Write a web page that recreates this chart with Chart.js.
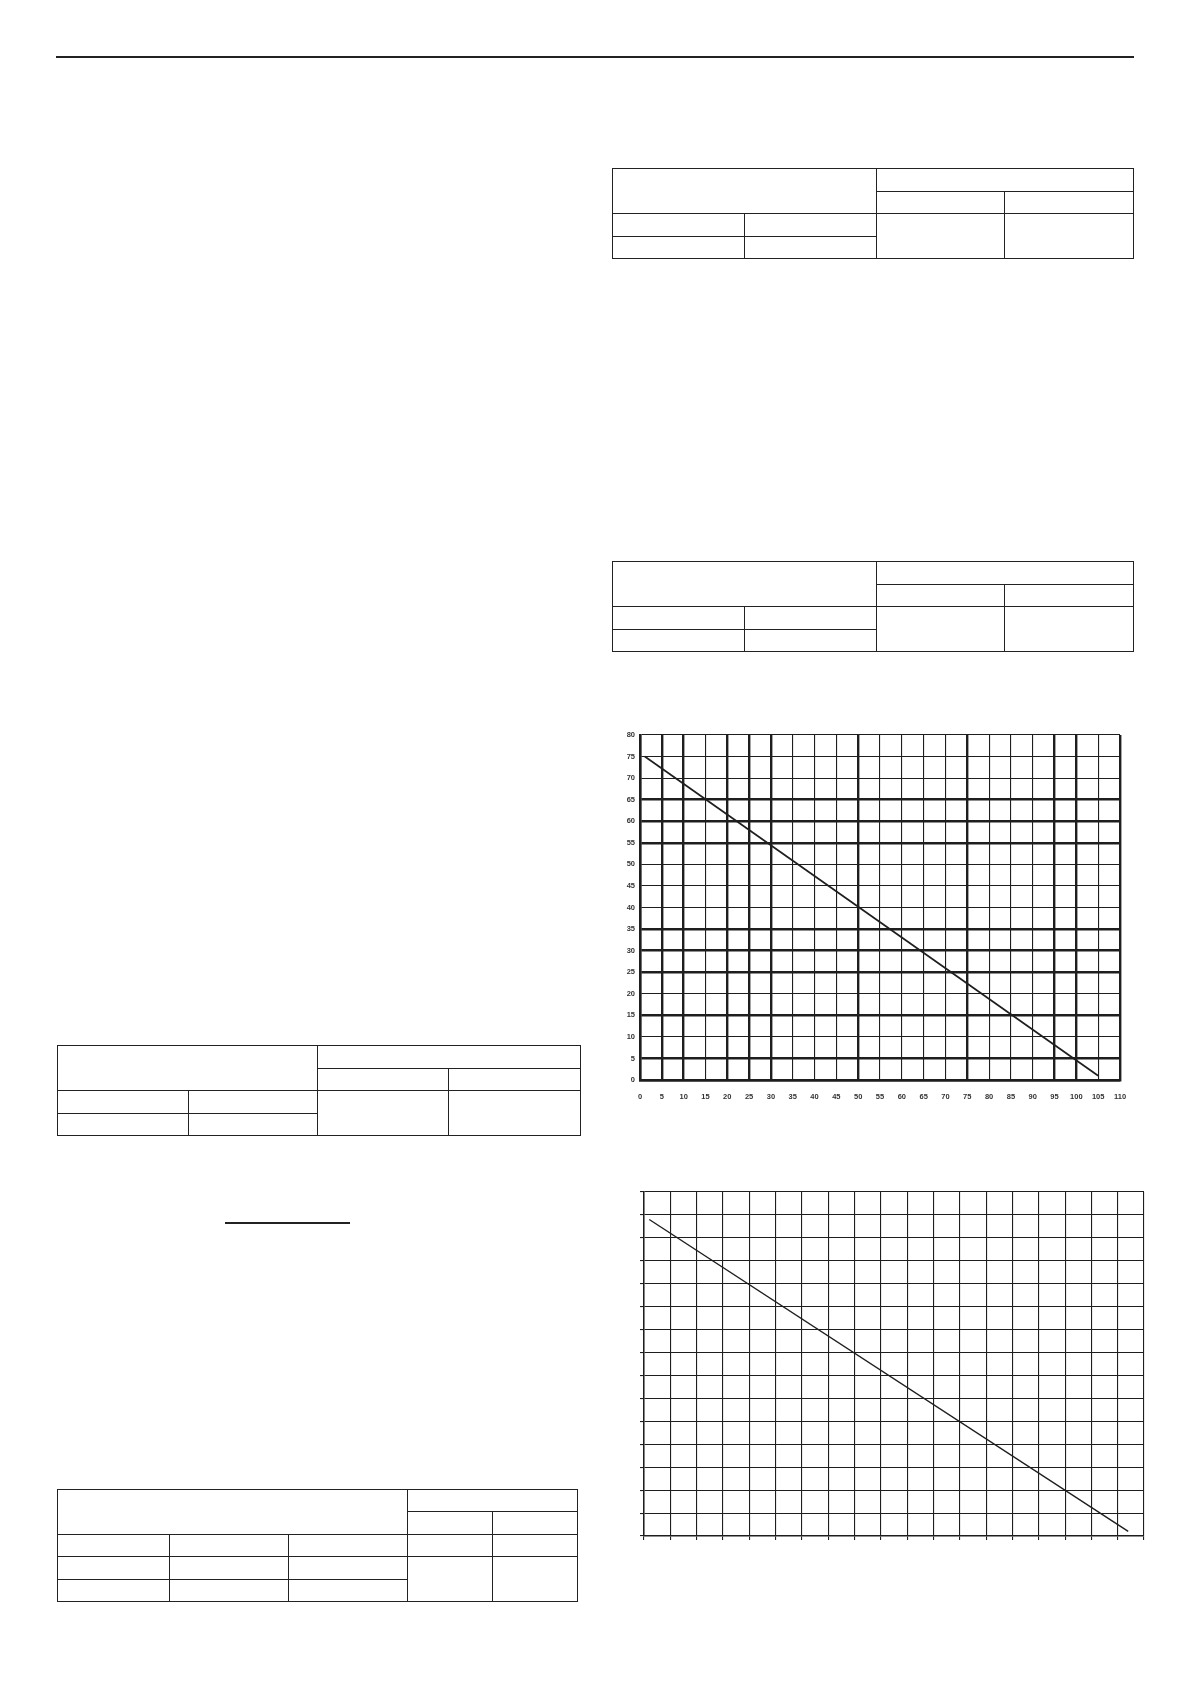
<!DOCTYPE html>
<html>
<head>
<meta charset="utf-8">
<script src="https://cdn.jsdelivr.net/npm/chart.js@4/dist/chart.umd.min.js"></script>
<style>
  html, body { margin: 0; padding: 0; background: #fff; }
  body { width: 1191px; height: 1684px; position: relative; overflow: hidden; }
  .rule { position: absolute; background: #222; }
  table.t { position: absolute; border-collapse: collapse; table-layout: fixed; }
  table.t td { border: 1.5px solid #222; padding: 0; font-size: 0; line-height: 0; }
  table.t tr { height: 22.6px; }
  table.t.five tr { height: 22.4px; }
  canvas { position: absolute; }
</style>
</head>
<body>
<div class="rule" style="left:56px;top:56px;width:1078px;height:1.5px"></div>

<table class="t" style="left:612px;top:168px;width:521px">
  <colgroup><col style="width:132px"><col style="width:132px"><col style="width:128px"><col style="width:129px"></colgroup>
  <tr><td colspan="2" rowspan="2"></td><td colspan="2"></td></tr>
  <tr><td></td><td></td></tr>
  <tr><td></td><td></td><td rowspan="2"></td><td rowspan="2"></td></tr>
  <tr><td></td><td></td></tr>
</table>

<table class="t" style="left:612px;top:561px;width:521px">
  <colgroup><col style="width:132px"><col style="width:132px"><col style="width:128px"><col style="width:129px"></colgroup>
  <tr><td colspan="2" rowspan="2"></td><td colspan="2"></td></tr>
  <tr><td></td><td></td></tr>
  <tr><td></td><td></td><td rowspan="2"></td><td rowspan="2"></td></tr>
  <tr><td></td><td></td></tr>
</table>

<table class="t" style="left:57px;top:1045px;width:523px">
  <colgroup><col style="width:131px"><col style="width:129px"><col style="width:131px"><col style="width:132px"></colgroup>
  <tr><td colspan="2" rowspan="2"></td><td colspan="2"></td></tr>
  <tr><td></td><td></td></tr>
  <tr><td></td><td></td><td rowspan="2"></td><td rowspan="2"></td></tr>
  <tr><td></td><td></td></tr>
</table>

<div class="rule" style="left:225px;top:1222px;width:125px;height:1.5px"></div>

<table class="t five" style="left:57px;top:1489px;width:520px">
  <colgroup><col style="width:112px"><col style="width:119px"><col style="width:119px"><col style="width:85px"><col style="width:85px"></colgroup>
  <tr><td colspan="3" rowspan="2"></td><td colspan="2"></td></tr>
  <tr><td></td><td></td></tr>
  <tr><td></td><td></td><td></td><td></td><td></td></tr>
  <tr><td></td><td></td><td></td><td rowspan="2"></td><td rowspan="2"></td></tr>
  <tr><td></td><td></td><td></td></tr>
</table>

<canvas id="chartA" width="520" height="375" style="left:610px;top:730px"></canvas>
<canvas id="chartB" width="515" height="359" style="left:634px;top:1187px"></canvas>

<script>
// chart A (labelled grid)
const xTicksA = [0, 5, 10, 15, 20, 25, 30, 35, 40, 45, 50, 55, 60, 65, 70, 75, 80, 85, 90, 95, 100, 105, 110];
const yTicksA = [0, 5, 10, 15, 20, 25, 30, 35, 40, 45, 50, 55, 60, 65, 70, 75, 80];
const lineAX = [1.1, 105];
const lineAY = [75, 1];

// chart B (unlabelled grid)
const xTicksB = [0, 1, 2, 3, 4, 5, 6, 7, 8, 9, 10, 11, 12, 13, 14, 15, 16, 17, 18, 19];
const yTicksB = [0, 1, 2, 3, 4, 5, 6, 7, 8, 9, 10, 11, 12, 13, 14, 15];
const lineBX = [0.2, 18.4];
const lineBY = [13.8, 0.2];

// heavier grid lines on chart A
const thickXA = [0, 5, 10, 20, 25, 30, 50, 75, 95, 100, 110];
const thickYA = [0, 5, 15, 25, 30, 35, 55, 60, 65];

const ink = '#1e1e1e';

function points (xs, ys) {
  return xs.map(function (x, i) { return { x: x, y: ys[i] }; });
}

function fixSize (w, h) {
  return function (scale) {
    if (w !== null) scale.width = w;
    if (h !== null) scale.height = h;
    scale.paddingLeft = 0;
    scale.paddingRight = 0;
    scale.paddingTop = 0;
    scale.paddingBottom = 0;
  };
}

function setTicks (list) {
  return function (scale) {
    scale.ticks = list.map(function (v) { return { value: v }; });
  };
}

const tickFont = { family: 'Liberation Sans', size: 7.5, weight: 'bold' };

new Chart(document.getElementById('chartA'), {
  type: 'scatter',
  data: {
    datasets: [{
      data: points(lineAX, lineAY),
      showLine: true,
      borderColor: ink,
      borderWidth: 1.7,
      pointRadius: 0
    }]
  },
  options: {
    responsive: false,
    animation: false,
    devicePixelRatio: 1,
    layout: { padding: { top: 5, right: 10, left: 0, bottom: 0 } },
    plugins: { legend: { display: false }, tooltip: { enabled: false } },
    scales: {
      x: {
        type: 'linear', min: 0, max: 110,
        afterBuildTicks: setTicks(xTicksA),
        afterFit: fixSize(null, 25),
        border: { display: true, color: ink, width: 2.4 },
        grid: {
          drawTicks: false,
          color: ink,
          lineWidth: function (c) { return c.tick && thickXA.includes(c.tick.value) ? 2.4 : 1.1; }
        },
        ticks: { font: tickFont, color: '#333', padding: 12, autoSkip: false, maxRotation: 0 }
      },
      y: {
        type: 'linear', min: 0, max: 80,
        afterBuildTicks: setTicks(yTicksA),
        afterFit: fixSize(30, null),
        border: { display: true, color: ink, width: 2.4 },
        grid: {
          drawTicks: false,
          color: ink,
          lineWidth: function (c) { return c.tick && thickYA.includes(c.tick.value) ? 2.4 : 1.1; }
        },
        ticks: { font: tickFont, color: '#333', padding: 5, autoSkip: false }
      }
    }
  }
});

new Chart(document.getElementById('chartB'), {
  type: 'scatter',
  data: {
    datasets: [{
      data: points(lineBX, lineBY),
      showLine: true,
      borderColor: ink,
      borderWidth: 1.4,
      pointRadius: 0
    }]
  },
  options: {
    responsive: false,
    animation: false,
    devicePixelRatio: 1,
    layout: { padding: { top: 5, right: 5, left: 0, bottom: 0 } },
    plugins: { legend: { display: false }, tooltip: { enabled: false } },
    scales: {
      x: {
        type: 'linear', min: 0, max: 19,
        afterBuildTicks: setTicks(xTicksB),
        afterFit: fixSize(null, 10),
        border: { display: true, color: ink, width: 1.5 },
        grid: { color: ink, lineWidth: 1.1, drawTicks: true, tickLength: 4 },
        ticks: { display: false }
      },
      y: {
        type: 'linear', min: 0, max: 15,
        afterBuildTicks: setTicks(yTicksB),
        afterFit: fixSize(10, null),
        border: { display: true, color: ink, width: 1.5 },
        grid: { color: ink, lineWidth: 1.1, drawTicks: true, tickLength: 4 },
        ticks: { display: false }
      }
    }
  }
});
</script>
</body>
</html>
